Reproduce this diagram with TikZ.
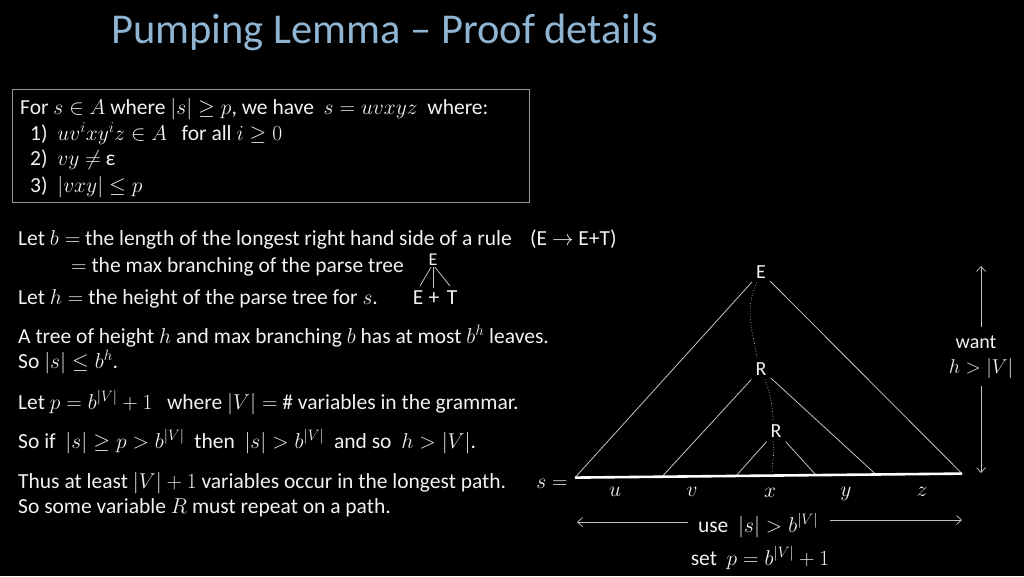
\documentclass[tikz,border=0pt]{standalone}
\usepackage{fix-cm}
\usepackage{fontspec}
\setmainfont{Carlito}
\usetikzlibrary{arrows.meta}
\definecolor{titleblue}{RGB}{143,181,211}
\definecolor{linegray}{RGB}{195,195,195}
\definecolor{boxgray}{RGB}{150,150,150}
\definecolor{txtwhite}{RGB}{242,242,242}
\begin{document}
\begin{tikzpicture}[x=1pt,y=-1pt,
  every node/.style={text=txtwhite,font=\fontsize{21.5}{25}\selectfont,inner sep=0pt},
  txt/.style={anchor=base west},
  ctr/.style={anchor=base},
  tnode/.style={font=\fontsize{20}{23}\selectfont,inner sep=4pt},
  tline/.style={draw=linegray,line width=0.8pt},
  dotpath/.style={draw=linegray,line width=0.7pt,dotted},
  arr/.style={draw=linegray,line width=0.7pt,-{Straight Barb[length=5pt,width=9pt]}}
]
\fill[black] (0,0) rectangle (1024,576);
\useasboundingbox (0,0) rectangle (1024,576);

% title
\node[txt,text=titleblue,font=\fontsize{42.5}{46}\selectfont] (title) at (111,43) {Pumping Lemma – Proof details};

% box
\draw[boxgray,line width=1pt] (12,89) rectangle (529,202);
\node[txt] (b0) at (20,114) {For $s\in A$ where $|s|\ge p$, we have\ \ $s=uvxyz$\ \ where:};
\node[txt] (b1) at (30,140) {1)\ \ $uv^ixy^iz\in A$\ \ \ for all $i\ge 0$};
\node[txt] (b2) at (30,165) {2)\ \ $vy\ne$ ε};
\node[txt] (b3) at (30,192) {3)\ \ $|vxy|\le p$};

% left text
\node[txt] (l1) at (18,245) {Let $b=$ the length of the longest right hand side of a rule};
\node[txt] (l2) at (71,272) {$=$ the max branching of the parse tree};
\node[txt] (l3) at (18,304) {Let $h=$ the height of the parse tree for $s$.};
\node[txt] (rule) at (530,245) {(E $\rightarrow$ E+T)};
\node[ctr,font=\fontsize{18}{20}\selectfont] (sE) at (433,265) {E};
\node[ctr] (c1) at (418,304) {E};
\node[ctr] (c2) at (434,304) {+};
\node[ctr] (c3) at (452,304) {T};
\draw[tline] ([xshift=-2pt,yshift=-2pt]sE.south) -- ([xshift=2pt,yshift=4pt]c1.north);
\draw[tline] ([yshift=-2pt]sE.south) -- ([yshift=4pt]sE.south |- c2.north);
\draw[tline] ([xshift=2pt,yshift=-2pt]sE.south) -- ([xshift=-2pt,yshift=4pt]c3.north);

\node[txt] (l4) at (18,343) {A tree of height $h$ and max branching $b$ has at most $b^h$ leaves.};
\node[txt] (l5) at (18,368) {So $|s|\le b^h$.};
\node[txt] (l6) at (18,409) {Let $p=b^{|V|}+1$\ \ \ where $|V|=$ \# variables in the grammar.};
\node[txt] (l7) at (18,448) {So if\ \ $|s|\ge p>b^{|V|}$\ \ then\ \ $|s|>b^{|V|}$\ \ and so\ \ $h>|V|$.};
\node[txt] (l8) at (18,488) {Thus at least $|V|+1$ variables occur in the longest path.};
\node[txt] (l9) at (18,513) {So some variable $R$ must repeat on a path.};

% tree
\node[tnode] (E) at (761,272) {E};
\node[tnode] (R1) at (761,369) {R};
\node[tnode] (R2) at (776,431) {R};
\coordinate (L0) at (575,477.6);
\coordinate (L1) at (662,476.7);
\coordinate (L2) at (736,475.9);
\coordinate (L3) at (772,475.6);
\coordinate (L4) at (816,475.1);
\coordinate (L5) at (876,474.5);
\coordinate (L6) at (962,473.6);
\draw[tline] (E) -- (L0);
\draw[tline] (E) -- (L6);
\draw[tline] (R1) -- (L1);
\draw[tline] (R1) -- (L5);
\draw[tline] (R2) -- (L2);
\draw[tline] (R2) -- (L4);
\draw[white,line width=2.6pt] (L0) -- (L6);
\draw[dotpath] ([xshift=-4pt]E.south) .. controls +(-14,30) and +(-3,-25) .. ([xshift=-4pt]R1.north);
\draw[dotpath] ([xshift=4pt]R1.south) .. controls +(5,12) and +(0,-12) .. ([xshift=-3pt]R2.north);
\draw[dotpath] ([xshift=-3pt]R2.south) .. controls +(2,14) and +(0,-14) .. (L3);

\node[ctr] (lu) at (615,496) {$u$};
\node[ctr] (lv) at (692,496) {$v$};
\node[ctr] (lx) at (770,497) {$x$};
\node[ctr] (ly) at (846,496) {$y$};
\node[ctr] (lz) at (922,496) {$z$};
\node[ctr] (seq) at (552,488) {$s=$};

% right arrow
\node[ctr,font=\fontsize{20}{24}\selectfont] (want) at (976,348) {want};
\node[ctr,font=\fontsize{20}{24}\selectfont] (hv) at (981,373) {$h>|V|$};
\coordinate (atop) at (981,266);
\coordinate (abot) at (981,473);
\draw[arr] ([yshift=8pt]want.north -| atop) -- (atop);
\draw[arr] ([yshift=-8pt]hv.south -| abot) -- (abot);

% bottom
\node[ctr] (use) at (758,532) {use\ \ $|s|>b^{|V|}$};
\node[ctr] (set) at (760,565) {set\ \ $p=b^{|V|}+1$};
\coordinate (ul) at (577,522);
\coordinate (ur) at (962,520);
\draw[arr] (688,522) -- (ul);
\draw[arr] (830,520) -- (ur);
\end{tikzpicture}
\end{document}
